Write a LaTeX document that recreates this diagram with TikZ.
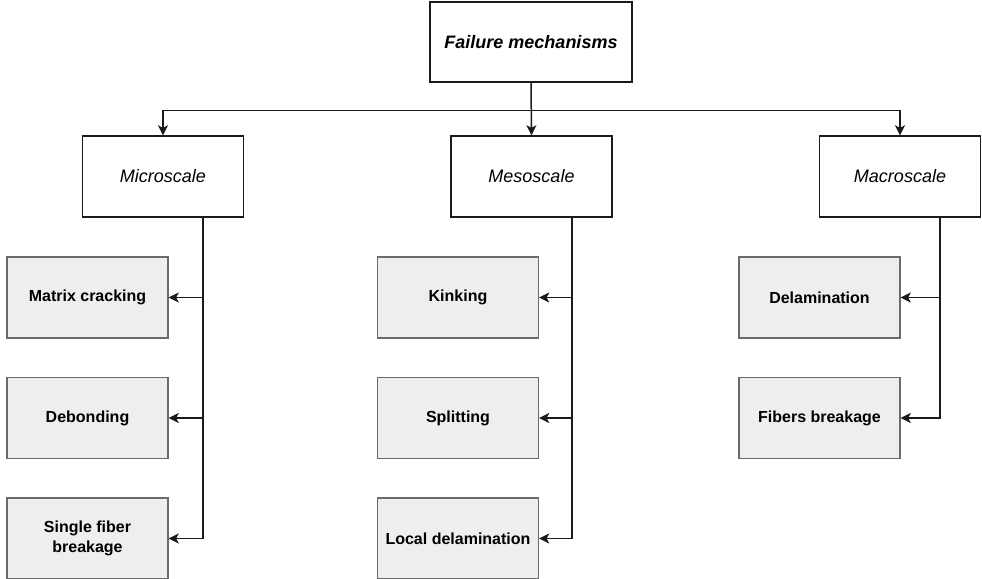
\documentclass[tikz,border=0pt]{standalone}
\usepackage{fontspec}
\setmainfont{Liberation Sans}
\usetikzlibrary{arrows.meta}
\definecolor{childfill}{HTML}{EEEEEE}
\definecolor{childdraw}{HTML}{6B6B6B}
\definecolor{linec}{HTML}{1A1A1A}
\begin{document}
\begin{tikzpicture}[x=1pt,y=-1pt,
  topbox/.style={draw=linec,line width=1.4pt,fill=white,minimum width=202pt,minimum height=80pt,inner sep=0pt,font=\fontsize{18}{21}\selectfont\bfseries\itshape},
  scalebox/.style={draw=linec,line width=1.4pt,fill=white,minimum width=161pt,minimum height=81pt,inner sep=0pt,font=\fontsize{18}{21}\selectfont\itshape},
  childbox/.style={draw=childdraw,line width=1.4pt,fill=childfill,minimum width=161pt,minimum height=81pt,inner sep=0pt,align=center,font=\fontsize{16}{20}\selectfont\bfseries},
  arr/.style={draw=linec,line width=1.5pt,-{Stealth[length=10pt,width=10pt,inset=2.5pt]}}
]
\useasboundingbox (0,0) rectangle (982,578);
\node[topbox] (top) at (531,42) {Failure mechanisms};
\node[scalebox] (micro) at (163,176.5) {Microscale};
\node[scalebox] (meso) at (531.5,176.5) {Mesoscale};
\node[scalebox] (macro) at (900,176.5) {Macroscale};

\node[childbox] (mc) at (87.5,297.5) {Matrix cracking};
\node[childbox] (deb) at (87.5,418) {Debonding};
\node[childbox] (sfb) at (87.5,538.5) {Single fiber\\breakage};

\node[childbox] (kink) at (458,297.5) {Kinking};
\node[childbox] (split) at (458,418) {Splitting};
\node[childbox] (ld) at (458,538.5) {Local delamination};

\node[childbox] (del) at (819.5,297.5) {Delamination};
\node[childbox] (fb) at (819.5,418) {Fibers breakage};

\coordinate (j) at ([yshift=-28pt]top.south);
\draw[arr] (top.south) -- (meso.north);
\draw[arr] (j) -| (micro.north);
\draw[arr] (j) -| (macro.north);

\draw[arr] ([xshift=40pt]micro.south) |- (mc.east);
\draw[arr] ([xshift=40pt]micro.south) |- (deb.east);
\draw[arr] ([xshift=40pt]micro.south) |- (sfb.east);

\draw[arr] ([xshift=40.5pt]meso.south) |- (kink.east);
\draw[arr] ([xshift=40.5pt]meso.south) |- (split.east);
\draw[arr] ([xshift=40.5pt]meso.south) |- (ld.east);

\draw[arr] ([xshift=40pt]macro.south) |- (del.east);
\draw[arr] ([xshift=40pt]macro.south) |- (fb.east);
\end{tikzpicture}
\end{document}
